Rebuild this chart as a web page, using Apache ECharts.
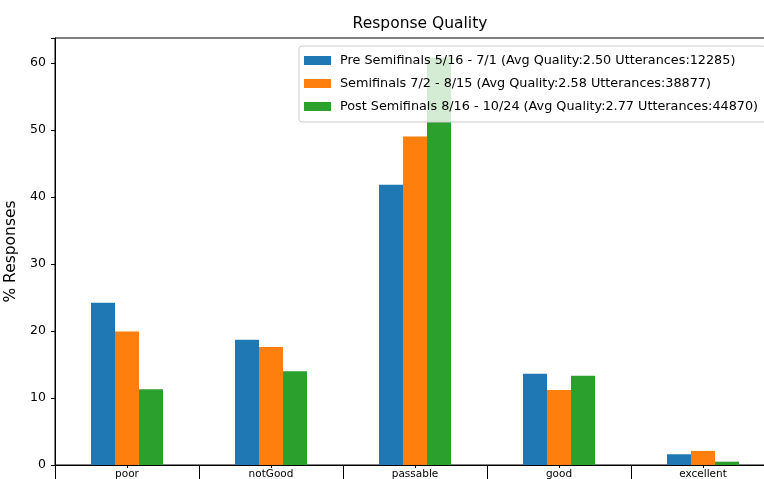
<!DOCTYPE html>
<html><head><meta charset="utf-8">
<script src="https://cdn.jsdelivr.net/npm/echarts@6/dist/echarts.min.js"></script>
<style>html,body{margin:0;padding:0;background:#fff}#c{width:764px;height:479px}</style>
</head><body><div id="c"></div>
<script>
const categories = ['poor', 'notGood', 'passable', 'good', 'excellent'];
const seriesNames = [
  'Pre Semifinals 5/16 - 7/1 (Avg Quality:2.50 Utterances:12285)',
  'Semifinals 7/2 - 8/15 (Avg Quality:2.58 Utterances:38877)',
  'Post Semifinals 8/16 - 10/24 (Avg Quality:2.77 Utterances:44870)'
];
const preSemi = [24.2, 18.7, 41.8, 13.6, 1.6];
const semi = [19.9, 17.6, 49.0, 11.2, 2.1];
const postSemi = [11.3, 14.0, 60.8, 13.3, 0.5];
const colors = ['#1f77b4', '#ff7f0e', '#2ca02c'];
const F = 'DejaVu Sans';

const chart = echarts.init(document.getElementById('c'), null, {renderer: 'canvas'});
const values = [preSemi, semi, postSemi];
chart.setOption({
  animation: false,
  textStyle: {fontFamily: F},
  title: {text: 'Response Quality', left: 415, top: 11, textAlign: 'center',
    textStyle: {fontFamily: F, fontSize: 15.5, fontWeight: 'normal', color: '#000'}},
  grid: {left: 55, top: 38, bottom: 14, right: -11, show: true, borderColor: '#000', borderWidth: 1,
    outerBoundsMode: 'none', containLabel: false},
  legend: {
    orient: 'vertical', left: 299, top: 46, icon: 'rect', itemWidth: 27, itemHeight: 9, itemGap: 10,
    padding: [8, 8, 9, 5], backgroundColor: 'rgba(255,255,255,0.8)', borderColor: '#ccc', borderWidth: 1, borderRadius: 3,
    textStyle: {fontFamily: F, fontSize: 12.8, color: '#000', padding: [0, 0, 0, 4]},
    data: seriesNames
  },
  xAxis: [{
    type: 'category', data: categories,
    axisLine: {show: true, lineStyle: {color: '#000', width: 1}},
    axisTick: {show: true, alignWithLabel: false, length: 14, lineStyle: {color: '#000'}},
    axisLabel: {fontFamily: F, fontSize: 10.5, color: '#000', margin: 4},
    splitLine: {show: false}
  }, {
    type: 'category', data: categories, position: 'bottom',
    axisLine: {show: false},
    axisTick: {show: true, alignWithLabel: true, length: 3, lineStyle: {color: '#000'}},
    axisLabel: {show: false}, splitLine: {show: false}
  }],
  yAxis: {
    type: 'value', min: 0, max: 63.7, interval: 10,
    name: '% Responses', nameLocation: 'middle', nameGap: 33, nameRotate: 90,
    nameTextStyle: {fontFamily: F, fontSize: 15.5, color: '#000'},
    axisLine: {show: true, lineStyle: {color: '#000', width: 1}},
    axisTick: {show: true, length: 4, lineStyle: {color: '#000'}},
    axisLabel: {fontFamily: F, fontSize: 12.5, color: '#000', margin: 9,
      formatter: v => (v % 10 === 0 ? String(v) : '')},
    splitLine: {show: false}
  },
  series: seriesNames.map((n, i) => ({
    name: n, type: 'bar', data: values[i], xAxisIndex: 0,
    barWidth: 24, barGap: '0%', barCategoryGap: '50%',
    itemStyle: {color: colors[i]}
  }))
});
</script></body></html>
